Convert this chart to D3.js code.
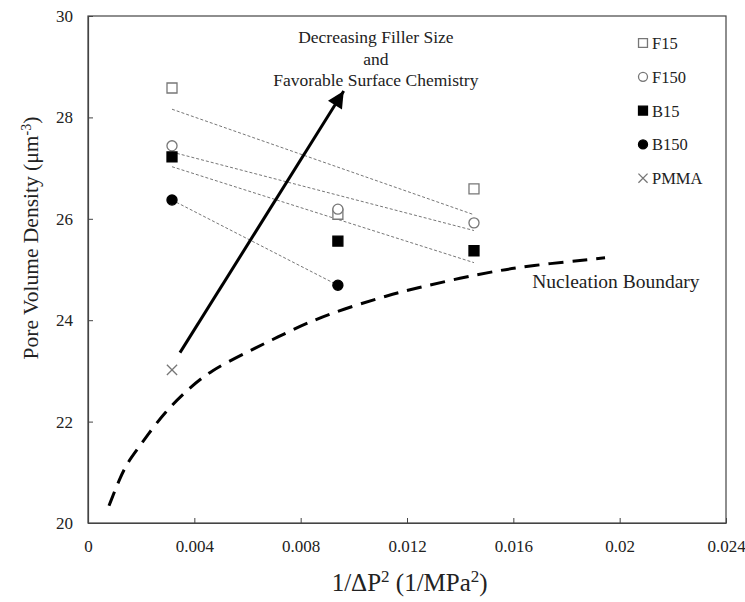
<!DOCTYPE html>
<meta charset="utf-8">
<script src="https://d3js.org/d3.v7.min.js"></script>
<style>
  body { margin: 0; background: #fff; }
  text { font-family: "Liberation Serif", "Times New Roman", serif; }
</style>
<div id="chart"></div>
<script>
// x positions shared by the filled samples (1/dP^2)
var xSamples = [0.00316, 0.0094, 0.01452];
var f15 = [28.58, 26.09, 26.59];
var f150 = [27.44, 26.19, 25.92];
var b15 = [27.22, 25.56, 25.37];
var b150X = [0.00316, 0.0094];
var b150 = [26.37, 24.69];
var pmmaX = [0.00316];
var pmma = [23.02];

// nucleation boundary
var boundaryX = [0.00079, 0.00120, 0.00150, 0.00184, 0.00222, 0.00290, 0.00372, 0.00459,
                 0.00609, 0.00711, 0.00824, 0.00959, 0.01136, 0.01223, 0.01475, 0.01663, 0.01945];
var boundaryY = [20.34, 20.89, 21.20, 21.44, 21.72, 22.19, 22.62, 23.00,
                 23.40, 23.66, 23.95, 24.22, 24.50, 24.62, 24.92, 25.08, 25.23];

// trend arrow
var arrowX = [0.00346, 0.00962];
var arrowY = [23.36, 28.52];

var xTicks = [0, 0.004, 0.008, 0.012, 0.016, 0.02, 0.024];
var yTicks = [20, 22, 24, 26, 28, 30];
var legendNames = ["F15", "F150", "B15", "B150", "PMMA"];

var margin = {top: 16, right: 19, bottom: 79, left: 88},
    width = 745 - margin.left - margin.right,
    height = 602 - margin.top - margin.bottom;

var svg = d3.select("#chart")
  .append("svg")
    .attr("width", 745)
    .attr("height", 602)
  .append("g")
    .attr("transform", "translate(" + margin.left + "," + margin.top + ")");

var x = d3.scaleLinear().domain([0, 0.024]).range([0, width]);
var y = d3.scaleLinear().domain([20, 30]).range([height, 0]);

// frame
svg.append("rect")
  .attr("width", width).attr("height", height)
  .attr("fill", "none").attr("stroke", "#444").attr("stroke-width", 1.2);

// axes, inner ticks
var xAxis = svg.append("g")
  .attr("transform", "translate(0," + height + ")")
  .call(d3.axisBottom(x).tickValues(xTicks).tickSizeInner(-5).tickSizeOuter(0).tickPadding(17)
    .tickFormat(function(d) { return String(+d.toFixed(3)); }));
var yAxis = svg.append("g")
  .call(d3.axisLeft(y).tickValues(yTicks).tickSizeInner(-5).tickSizeOuter(0).tickPadding(15));
[xAxis, yAxis].forEach(function(a) {
  a.select(".domain").attr("stroke", "#444").attr("stroke-width", 1.2);
  a.selectAll(".tick line").attr("stroke", "#444");
  a.selectAll(".tick text").style("font-family", "Liberation Serif").style("font-size", "17px").attr("fill", "#222");
});

// axis titles
var xt = svg.append("text")
  .attr("x", x(0.0121)).attr("y", height + 68)
  .attr("text-anchor", "middle").style("font-size", "25px").attr("fill", "#222");
xt.append("tspan").text("1/\u0394P");
xt.append("tspan").attr("baseline-shift", "super").style("font-size", "17px").text("2");
xt.append("tspan").text(" (1/MPa");
xt.append("tspan").attr("baseline-shift", "super").style("font-size", "17px").text("2");
xt.append("tspan").text(")");

var yt = svg.append("text")
  .attr("transform", "translate(-50," + (y(25.62)) + ")rotate(-90)")
  .attr("text-anchor", "middle").style("font-size", "21.5px").attr("fill", "#222");
yt.append("tspan").text("Pore Volume Density (\u03bcm");
yt.append("tspan").attr("baseline-shift", "super").style("font-size", "14px").text("-3");
yt.append("tspan").text(")");

// least squares trend lines drawn across each series
function fit(xs, ys) {
  var mx = d3.mean(xs), my = d3.mean(ys);
  var sxy = d3.sum(xs, function(v, i) { return (v - mx) * (ys[i] - my); });
  var sxx = d3.sum(xs, function(v) { return (v - mx) * (v - mx); });
  var b = sxy / sxx;
  var x0 = d3.min(xs), x1 = d3.max(xs);
  return [[x0, my + b * (x0 - mx)], [x1, my + b * (x1 - mx)]];
}
var line = d3.line().x(function(d) { return x(d[0]); }).y(function(d) { return y(d[1]); });
[[xSamples, f15], [xSamples, f150], [xSamples, b15], [b150X, b150]].forEach(function(s) {
  svg.append("path")
    .attr("d", line(fit(s[0], s[1])))
    .attr("fill", "none").attr("stroke", "#777").attr("stroke-width", 1)
    .attr("stroke-dasharray", "3,2");
});

// nucleation boundary
svg.append("path")
  .attr("d", d3.line().curve(d3.curveBasis)
    .x(function(d) { return x(d); }).y(function(d, i) { return y(boundaryY[i]); })(boundaryX))
  .attr("fill", "none").attr("stroke", "#000").attr("stroke-width", 3)
  .attr("stroke-dasharray", "15,9");

svg.append("text")
  .attr("x", x(0.01986)).attr("y", y(24.64))
  .attr("text-anchor", "middle").style("font-size", "19.5px").attr("fill", "#222")
  .text("Nucleation Boundary");

// arrow
svg.append("defs").append("marker")
  .attr("id", "head").attr("viewBox", "0 0 10 10")
  .attr("refX", 10).attr("refY", 5)
  .attr("markerWidth", 7).attr("markerHeight", 5.5)
  .attr("markerUnits", "strokeWidth").attr("orient", "auto")
  .append("path").attr("d", "M0,0L10,5L0,10Z").attr("fill", "#000");
svg.append("line")
  .attr("x1", x(arrowX[0])).attr("y1", y(arrowY[0]))
  .attr("x2", x(arrowX[1])).attr("y2", y(arrowY[1]))
  .attr("stroke", "#000").attr("stroke-width", 3)
  .attr("marker-end", "url(#head)");

var note = svg.append("text")
  .attr("text-anchor", "middle").style("font-size", "17.5px").attr("fill", "#222");
note.append("tspan").attr("x", x(0.01083)).attr("y", y(29.47)).text("Decreasing Filler Size");
note.append("tspan").attr("x", x(0.01083)).attr("y", y(29.03)).text("and");
note.append("tspan").attr("x", x(0.01083)).attr("y", y(28.62)).text("Favorable Surface Chemistry");

// markers
var sym = {
  F15: {type: d3.symbolSquare, fill: "#fff", stroke: "#777", size: 100},
  F150: {type: d3.symbolCircle, fill: "#fff", stroke: "#777", size: 80},
  B15: {type: d3.symbolSquare, fill: "#000", stroke: "#000", size: 100},
  B150: {type: d3.symbolCircle, fill: "#000", stroke: "#000", size: 80},
  PMMA: {type: d3.symbolTimes, fill: "none", stroke: "#777", size: 70}
};
function drawPoints(name, xs, ys) {
  var s = sym[name];
  svg.selectAll(null).data(ys).enter().append("path")
    .attr("transform", function(d, i) { return "translate(" + x(xs[i]) + "," + y(d) + ")"; })
    .attr("d", d3.symbol().type(s.type).size(s.size))
    .attr("fill", s.fill).attr("stroke", s.stroke).attr("stroke-width", 1.3);
}
drawPoints("F15", xSamples, f15);
drawPoints("F150", xSamples, f150);
drawPoints("B15", xSamples, b15);
drawPoints("B150", b150X, b150);
drawPoints("PMMA", pmmaX, pmma);

// legend
var lg = svg.append("g").attr("transform", "translate(" + (643 - margin.left) + "," + (43 - margin.top) + ")");
legendNames.forEach(function(n, i) {
  var s = sym[n];
  var g = lg.append("g").attr("transform", "translate(0," + (i * 33.8) + ")");
  g.append("path")
    .attr("d", d3.symbol().type(s.type).size(s.size * 0.8))
    .attr("fill", s.fill).attr("stroke", s.stroke).attr("stroke-width", 1.3);
  g.append("text").attr("x", 9).attr("y", 6)
    .style("font-size", "16.5px").attr("fill", "#222").text(n);
});
</script>
